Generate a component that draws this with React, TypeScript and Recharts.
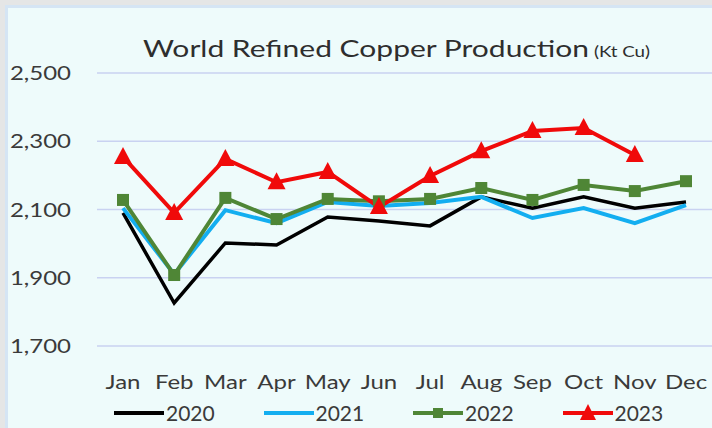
import { LineChart, Line, XAxis, YAxis, CartesianGrid, Legend } from "recharts";

const months = ["Jan", "Feb", "Mar", "Apr", "May", "Jun", "Jul", "Aug", "Sep", "Oct", "Nov", "Dec"];
const y2020 = [2090, 1826, 2002, 1996, 2078, 2066, 2052, 2137, 2104, 2137, 2104, 2122];
const y2021 = [2104, 1910, 2098, 2060, 2122, 2110, 2119, 2137, 2075, 2104, 2060, 2113];
const y2022 = [2128, 1908, 2134, 2072, 2131, 2124, 2131, 2163, 2128, 2172, 2154, 2183];
const y2023 = [2254, 2090, 2248, 2180, 2210, 2107, 2198, 2271, 2330, 2339, 2260, null];
const yTicks = [1700, 1900, 2100, 2300, 2500];

const data = months.map((m, i) => ({
  month: m,
  "2020": y2020[i],
  "2021": y2021[i],
  "2022": y2022[i],
  "2023": y2023[i],
}));

const FONT = "Lato, 'Liberation Sans', sans-serif";
const TEXT = "#3a3a3a";
// the source image is a bit stretched sideways, so text is widened to match
const STRETCH = 1.2;

const series = [
  { key: "2020", color: "#000000", marker: "none" },
  { key: "2021", color: "#13aef0", marker: "none" },
  { key: "2022", color: "#4f8636", marker: "square" },
  { key: "2023", color: "#f00a0a", marker: "triangle" },
];

function SquareDot(props: any) {
  const { cx, cy, index } = props;
  if (cx == null || cy == null) return <g key={index} />;
  return <rect key={index} x={cx - 6} y={cy - 6} width={12} height={12} fill="#4f8636" />;
}

function TriangleDot(props: any) {
  const { cx, cy, index, value } = props;
  if (cx == null || cy == null || value == null) return <g key={index} />;
  return (
    <polygon
      key={index}
      points={`${cx},${cy - 10} ${cx - 9},${cy + 7} ${cx + 9},${cy + 7}`}
      fill="#f00a0a"
    />
  );
}

function XTick(props: any) {
  const { x, y, payload } = props;
  return (
    <g transform={`translate(${x},${y})`}>
      <text transform={`scale(${STRETCH},1)`} textAnchor="middle" dy="0.71em" fill={TEXT} fontSize={20} fontFamily={FONT}>
        {payload.value}
      </text>
    </g>
  );
}

function YTick(props: any) {
  const { x, y, payload } = props;
  return (
    <g transform={`translate(${x},${y})`}>
      <text transform={`scale(${STRETCH},1)`} textAnchor="end" dy="0.36em" fill={TEXT} fontSize={20} fontFamily={FONT}>
        {payload.value.toLocaleString("en-US")}
      </text>
    </g>
  );
}

function LegendIcon({ color, marker }: { color: string; marker: string }) {
  return (
    <svg width={50} height={20} style={{ display: "block" }}>
      <line x1={0} y1={11} x2={50} y2={11} stroke={color} strokeWidth={4} />
      {marker === "square" && <rect x={20} y={6} width={10} height={10} fill={color} />}
      {marker === "triangle" && <polygon points="25,2 17,18 33,18" fill={color} />}
    </svg>
  );
}

function CustomLegend() {
  return (
    <div style={{ display: "flex", height: 32, paddingLeft: 106, alignItems: "center" }}>
      {series.map((s) => (
        <div key={s.key} style={{ display: "flex", alignItems: "center", width: 152 }}>
          <LegendIcon color={s.color} marker={s.marker} />
          <span style={{ fontFamily: FONT, fontSize: 21, color: TEXT, marginLeft: 2 }}>{s.key}</span>
        </div>
      ))}
    </div>
  );
}

export default function App() {
  return (
    <div style={{ position: "absolute", left: 0, top: 0, width: 712, height: 428, background: "#e5e6e6", overflow: "hidden" }}>
      <div
        style={{
          position: "absolute",
          left: 8,
          top: 8,
          width: 704,
          height: 420,
          background: "#eefbfb",
          boxShadow: "0 0 0 3px #d5e5f4",
        }}
      >
        <div
          style={{
            position: "absolute",
            left: 135,
            top: 25,
            fontFamily: FONT,
            color: "#2e2e2e",
            whiteSpace: "nowrap",
            transform: "scaleX(1.25)",
            transformOrigin: "left top",
          }}
        >
          <span style={{ fontSize: 24 }}>World Refined Copper Production</span>
          <span style={{ fontSize: 15, marginLeft: 4 }}>(Kt Cu)</span>
        </div>
        <LineChart width={704} height={420} data={data} margin={{ top: 65, right: 0, left: 0, bottom: 0 }}>
          <CartesianGrid vertical={false} stroke="#c9d2f1" strokeWidth={1.5} />
          <XAxis
            dataKey="month"
            axisLine={false}
            tickLine={false}
            tickSize={0}
            tickMargin={29}
            height={50}
            padding={{ left: 26, right: 26 }}
            interval={0}
            tick={<XTick />}
          />
          <YAxis
            domain={[1700, 2500]}
            ticks={yTicks}
            width={89}
            axisLine={false}
            tickLine={false}
            tickSize={0}
            tickMargin={26}
            tick={<YTick />}
          />
          <Legend verticalAlign="bottom" content={() => <CustomLegend />} />
          <Line dataKey="2020" stroke="#000000" strokeWidth={3.5} dot={false} isAnimationActive={false} />
          <Line dataKey="2021" stroke="#13aef0" strokeWidth={4} dot={false} isAnimationActive={false} />
          <Line dataKey="2022" stroke="#4f8636" strokeWidth={4} dot={<SquareDot />} isAnimationActive={false} />
          <Line dataKey="2023" stroke="#f00a0a" strokeWidth={4} dot={<TriangleDot />} isAnimationActive={false} />
        </LineChart>
      </div>
    </div>
  );
}
